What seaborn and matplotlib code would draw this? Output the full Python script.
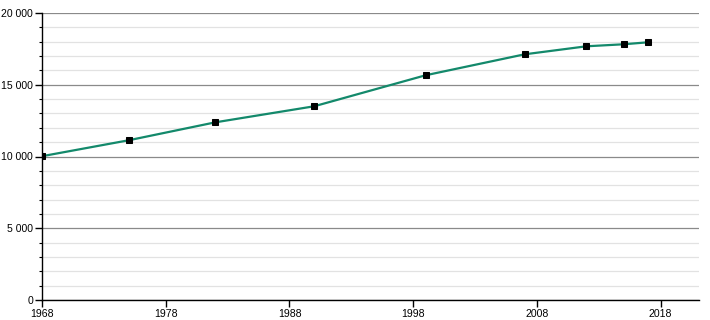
import matplotlib
matplotlib.use("Agg")
import matplotlib.pyplot as plt
from matplotlib.ticker import MultipleLocator, FuncFormatter
import seaborn as sns
import pandas as pd

years = [1968, 1975, 1982, 1990, 1999, 2007, 2012, 2015, 2017]
population = [10020, 11130, 12380, 13500, 15660, 17120, 17680, 17820, 17960]
x_ticks = [1968, 1978, 1988, 1998, 2008, 2018]

df = pd.DataFrame({"year": years, "population": population})

sns.set_theme(style="white")
plt.rcParams['font.family'] = ['Liberation Sans', 'DejaVu Sans']

fig = plt.figure(figsize=(7.1, 3.2), dpi=100)
ax = fig.add_axes([42/710, 1-300/320, (699-42)/710, (300-13)/320])

sns.lineplot(data=df, x="year", y="population", ax=ax, color="#13896b",
             linewidth=1.6, marker="s", markersize=4, markerfacecolor="black",
             markeredgecolor="black", zorder=3)

ax.set_xlim(1968, 2021.1)
ax.set_ylim(0, 20000)
ax.set_xticks(x_ticks)
ax.set_xticklabels([str(t) for t in x_ticks])
ax.yaxis.set_major_locator(MultipleLocator(5000))
ax.yaxis.set_minor_locator(MultipleLocator(1000))
ax.yaxis.set_major_formatter(FuncFormatter(lambda v, p: f"{int(v):,}".replace(",", " ")))

ax.grid(False)
ax.grid(axis="y", which="major", color="#8a8a8a", linewidth=0.9, zorder=1)
ax.grid(axis="y", which="minor", color="#e2e2e2", linewidth=0.9, zorder=0)

for s in ["top", "right"]:
    ax.spines[s].set_visible(False)
for s in ["left", "bottom"]:
    ax.spines[s].set_color("black")
    ax.spines[s].set_linewidth(1.0)

ax.tick_params(axis="both", which="major", direction="out", length=5, width=1,
               color="black", labelcolor="black", labelsize=7.6, pad=1.5,
               left=True, bottom=True)
ax.tick_params(axis="y", which="minor", direction="out", length=2.5, width=0.8,
               color="black", left=True)
ax.set_xlabel("")
ax.set_ylabel("")

fig.savefig("out.png", dpi=100)
